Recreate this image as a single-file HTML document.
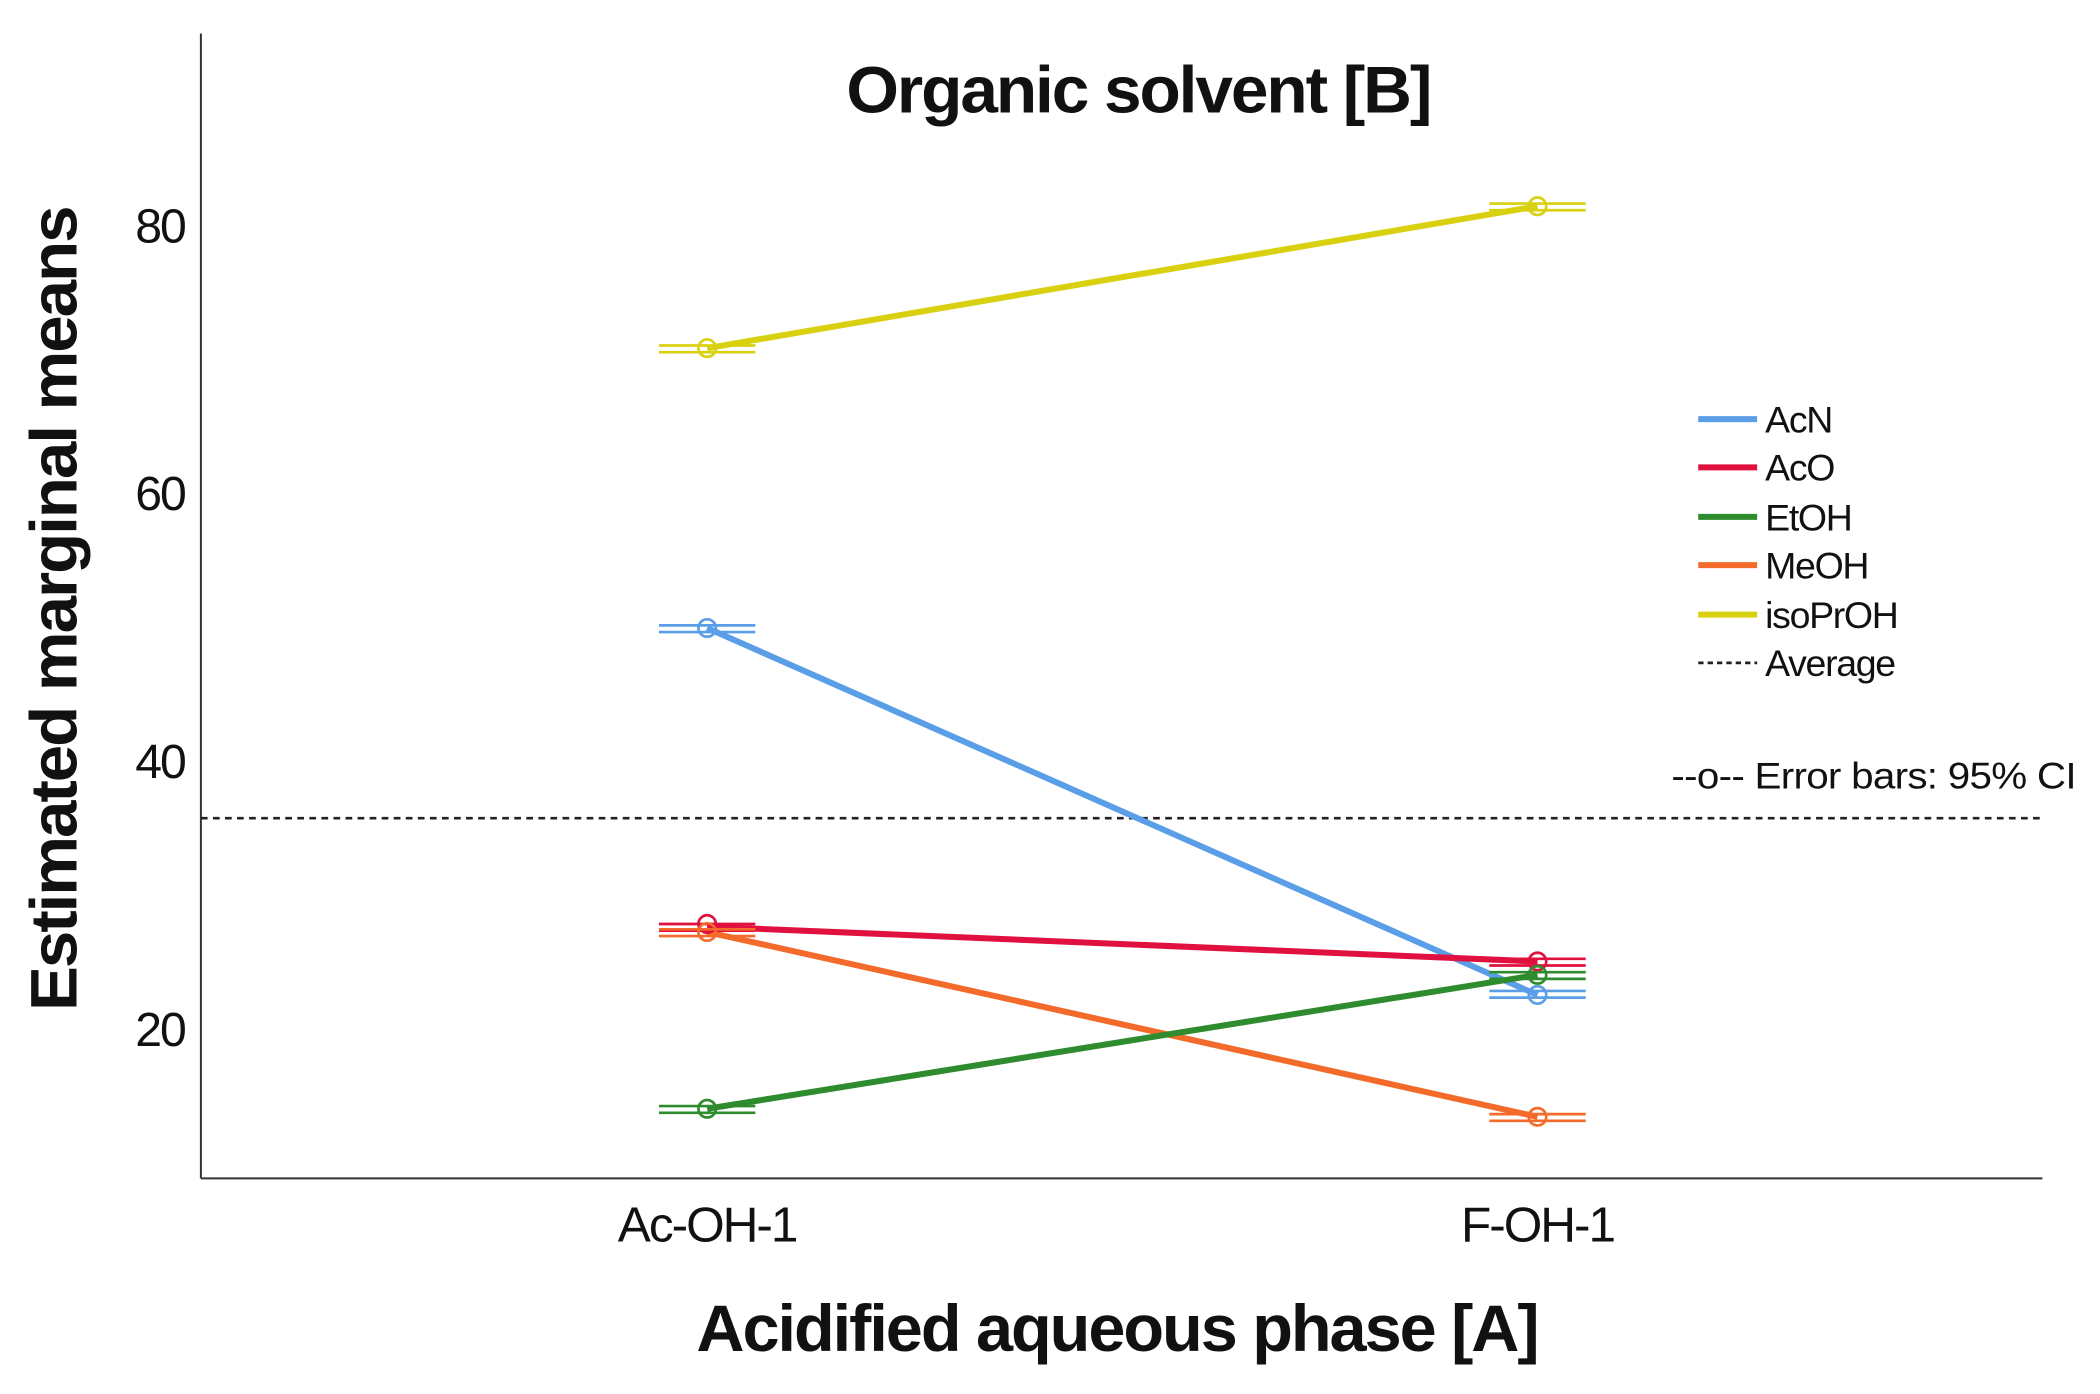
<!DOCTYPE html>
<html><head><meta charset="utf-8"><style>
html,body{margin:0;padding:0;background:#fff;}
svg{display:block;}
text{font-family:"Liberation Sans",sans-serif;fill:#111;}
</style></head><body>
<svg width="2100" height="1394" viewBox="0 0 1568 1041" preserveAspectRatio="none" xmlns="http://www.w3.org/2000/svg">
<rect width="1568" height="1041" fill="#fff"/>
<line x1="150" y1="25" x2="150" y2="880" stroke="#333" stroke-width="1.5"/>
<line x1="150" y1="880" x2="1525" y2="880" stroke="#333" stroke-width="1.5"/>
<g font-size="36" text-anchor="end" letter-spacing="-1.5">
<text x="138" y="181">80</text><text x="138" y="381">60</text><text x="138" y="581">40</text><text x="138" y="781">20</text>
</g>
<g font-size="37" text-anchor="middle" letter-spacing="-1.5">
<text x="528" y="927">Ac-OH-1</text><text x="1148" y="927">F-OH-1</text>
</g>
<text x="850" y="84" font-size="49" font-weight="bold" text-anchor="middle" letter-spacing="-1.5" textLength="436" lengthAdjust="spacingAndGlyphs">Organic solvent [B]</text>
<text x="834" y="1009" font-size="49" font-weight="bold" text-anchor="middle" letter-spacing="-1.5" textLength="628" lengthAdjust="spacingAndGlyphs">Acidified aqueous phase [A]</text>
<text transform="translate(57,455) rotate(-90)" font-size="49" font-weight="bold" text-anchor="middle" letter-spacing="-1.5" textLength="600" lengthAdjust="spacingAndGlyphs">Estimated marginal means</text>
<line x1="150" y1="611" x2="1525" y2="611" stroke="#222" stroke-width="2" stroke-dasharray="5,4"/>
<g stroke-width="4.5" fill="none">
<line x1="528" y1="260" x2="1148" y2="154" stroke="#d9d10f"/>
<line x1="528" y1="469" x2="1148" y2="743" stroke="#5b9ee8"/>
<line x1="528" y1="692" x2="1148" y2="718" stroke="#e0103f"/>
<line x1="528" y1="696" x2="1148" y2="834" stroke="#f46a2a"/>
<line x1="528" y1="828" x2="1148" y2="728" stroke="#2e8b2e"/>
</g>
<g fill="none" stroke-width="2">
<g stroke="#d9d10f"><path d="M492 258H564M492 263H564M1112 152H1184M1112 157H1184"/><circle cx="528" cy="260" r="6.5"/><circle cx="1148" cy="154" r="6.5"/></g>
<g stroke="#5b9ee8"><path d="M492 467H564M492 472H564M1112 740H1184M1112 745H1184"/><circle cx="528" cy="469" r="6.5"/><circle cx="1148" cy="743" r="6.5"/></g>
<g stroke="#e0103f"><path d="M492 690H564M492 695H564M1112 716H1184M1112 721H1184"/><circle cx="528" cy="690" r="6.5"/><circle cx="1148" cy="718" r="6.5"/></g>
<g stroke="#f46a2a"><path d="M492 694H564M492 699H564M1112 832H1184M1112 837H1184"/><circle cx="528" cy="696" r="6.5"/><circle cx="1148" cy="834" r="6.5"/></g>
<g stroke="#2e8b2e"><path d="M492 826H564M492 831H564M1112 726H1184M1112 731H1184"/><circle cx="528" cy="828" r="6.5"/><circle cx="1148" cy="728" r="6.5"/></g>
</g>
<g stroke-width="4.5">
<line x1="1268" y1="313" x2="1312" y2="313" stroke="#5b9ee8"/>
<line x1="1268" y1="349" x2="1312" y2="349" stroke="#e0103f"/>
<line x1="1268" y1="386" x2="1312" y2="386" stroke="#2e8b2e"/>
<line x1="1268" y1="422" x2="1312" y2="422" stroke="#f46a2a"/>
<line x1="1268" y1="459" x2="1312" y2="459" stroke="#d9d10f"/>
</g>
<line x1="1268" y1="495" x2="1312" y2="495" stroke="#222" stroke-width="2" stroke-dasharray="4,3"/>
<g font-size="28" letter-spacing="-1">
<text x="1318" y="323">AcN</text><text x="1318" y="359">AcO</text><text x="1318" y="396">EtOH</text>
<text x="1318" y="432">MeOH</text><text x="1318" y="469">isoPrOH</text><text x="1318" y="505">Average</text>
</g>
<text x="1248" y="589" font-size="28" letter-spacing="-0.5" textLength="302" lengthAdjust="spacingAndGlyphs">--o-- Error bars: 95% CI</text>
</svg>
</body></html>
